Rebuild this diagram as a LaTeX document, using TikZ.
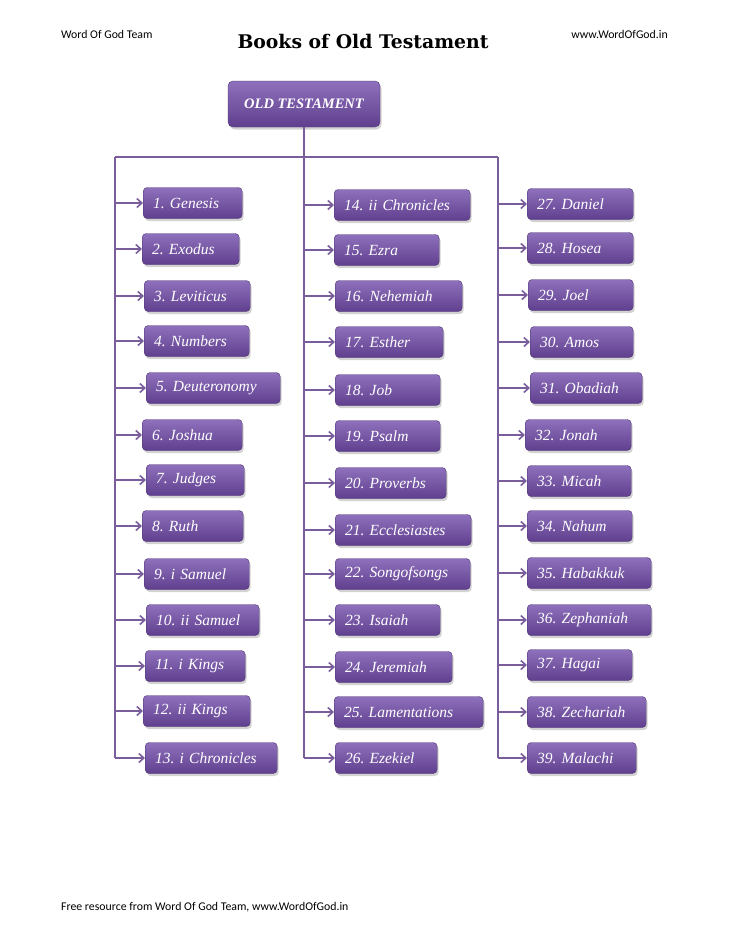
\documentclass[tikz,border=0pt]{standalone}
\usepackage{fontspec}
\setmainfont{Liberation Serif}
\newfontfamily\hdrfont{Carlito}
\newfontfamily\titlefont{DejaVu Serif}
\usetikzlibrary{arrows.meta,shadows,calc}
\frenchspacing
\definecolor{boxtop}{RGB}{142,112,188}
\definecolor{boxbot}{RGB}{96,64,142}
\definecolor{linec}{RGB}{122,94,156}
\tikzset{
  bookbox/.style={rectangle, rounded corners=4pt, top color=boxtop, bottom color=boxbot,
     draw=boxbot!80!black, line width=0.4pt, minimum height=31pt, anchor=west,
     font=\fontsize{15.5}{17}\selectfont\itshape, text=white, inner xsep=10pt,
     align=left, drop shadow={opacity=0.35, shadow xshift=1.5pt, shadow yshift=-2.5pt}},
  rootbox/.style={rectangle, rounded corners=5pt, top color=boxtop, bottom color=boxbot,
     draw=boxbot!80!black, line width=0.4pt, minimum width=152pt, minimum height=46pt,
     font=\fontsize{14.5}{16}\selectfont\itshape\bfseries, text=white,
     drop shadow={opacity=0.35, shadow xshift=1.5pt, shadow yshift=-2.5pt}},
  trunk/.style={draw=linec, line width=2pt},
  arr/.style={draw=linec, line width=2pt, -{Straight Barb[length=5pt,width=9pt,line width=1.6pt]}},
  hdr/.style={font=\hdrfont\fontsize{11.8}{13}\selectfont, text=black, inner sep=0pt},
}
\begin{document}
\begin{tikzpicture}[x=1pt,y=-1pt]
\useasboundingbox (0,0) rectangle (728,942);
\fill[white] (0,0) rectangle (728,942);
\node[hdr, anchor=west] (hl) at (61,34) {Word Of God Team};
\node[hdr, anchor=east] (hr) at (668,34) {www.WordOfGod.in};
\node[font=\titlefont\bfseries\fontsize{18.8}{22}\selectfont, inner sep=0pt] (title) at (363,41) {Books of Old Testament};
\node[hdr, anchor=west] (foot) at (61,907) {Free resource from Word Of God Team, www.WordOfGod.in};

\node[rootbox] (root) at (304,104) {OLD TESTAMENT};

\coordinate (jL) at (115,157);
\coordinate (jM) at (304,157);
\coordinate (jR) at (498,157);

% column 1
\foreach \n/\x/\y/\w/\t in {
 1/143/203/99/{1. Genesis},
 2/142/249/97/{2. Exodus},
 3/144/296/106/{3. Leviticus},
 4/144/341/105/{4. Numbers},
 5/146/388/134/{5. Deuteronomy},
 6/142/435/100/{6. Joshua},
 7/146/480/98/{7. Judges},
 8/142/526/101/{8. Ruth},
 9/144/574/105/{9. i Samuel},
 10/146/620/113/{10. ii Samuel},
 11/145/666/100/{11. i Kings},
 12/143/711/107/{12. ii Kings},
 13/145/758/132/{13. i Chronicles}}{
  \node[bookbox, minimum width=\w pt, text width={\w pt-20pt}] (b\n) at (\x,\y) {\t};
  \draw[arr] (b\n.west -| jL) -- (b\n.west);
}
% column 2
\foreach \n/\x/\y/\w/\t in {
 14/334/205/136/{14. ii Chronicles},
 15/334/250/105/{15. Ezra},
 16/335/296/127/{16. Nehemiah},
 17/335/342/108/{17. Esther},
 18/335/390/105/{18. Job},
 19/335/436/105/{19. Psalm},
 20/335/483/111/{20. Proverbs},
 21/335/530/136/{21. Ecclesiastes},
 22/335/574/135/{22. Songofsongs},
 23/335/620/105/{23. Isaiah},
 24/335/667/117/{24. Jeremiah},
 25/334/712/149/{25. Lamentations},
 26/335/758/102/{26. Ezekiel}}{
  \node[bookbox, minimum width=\w pt, text width={\w pt-20pt}] (b\n) at (\x,\y) {\t};
  \draw[arr] (b\n.west -| jM) -- (b\n.west);
}
% column 3
\foreach \n/\x/\y/\w/\t in {
 27/527/204/106/{27. Daniel},
 28/527/248/106/{28. Hosea},
 29/528/295/105/{29. Joel},
 30/530/342/103/{30. Amos},
 31/530/388/112/{31. Obadiah},
 32/525/435/106/{32. Jonah},
 33/527/481/104/{33. Micah},
 34/527/526/105/{34. Nahum},
 35/527/573/124/{35. Habakkuk},
 36/527/620/124/{36. Zephaniah},
 37/527/665/105/{37. Hagai},
 38/527/712/119/{38. Zechariah},
 39/527/758/109/{39. Malachi}}{
  \node[bookbox, minimum width=\w pt, text width={\w pt-20pt}] (b\n) at (\x,\y) {\t};
  \draw[arr] (b\n.west -| jR) -- (b\n.west);
}

\draw[trunk] (root.south) -- (jM);
\draw[trunk] (jL) -- (jR);
\draw[trunk] (jL) -- (b13.west -| jL);
\draw[trunk] (jM) -- (b26.west -| jM);
\draw[trunk] (jR) -- (b39.west -| jR);
\end{tikzpicture}
\end{document}
